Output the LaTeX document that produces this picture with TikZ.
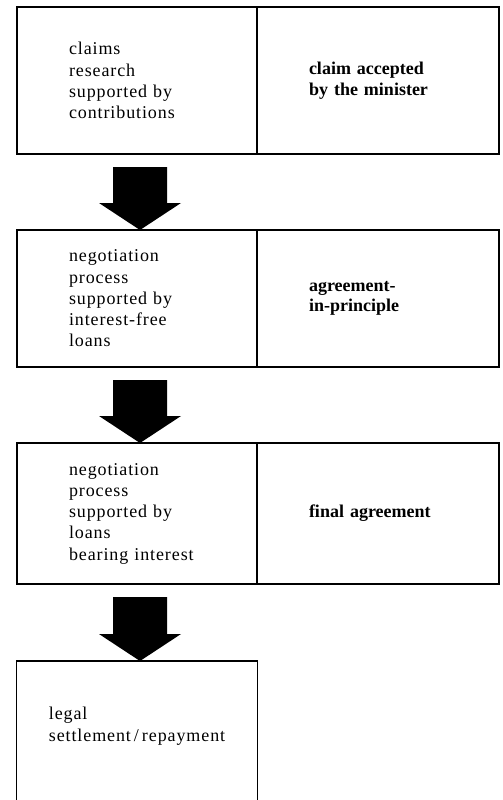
\documentclass[tikz,border=0pt]{standalone}
\usepackage{fontspec}
\setmainfont{Liberation Serif}
\newfontfamily\spacedfont[LetterSpace=5]{Liberation Serif}
\usetikzlibrary{positioning,calc}
\tikzset{frame/.style={draw,line width=1.3pt,outer sep=0pt,inner ysep=0pt},
 lcell/.style={frame,align=left,text width=136pt,inner xsep=52pt,font=\fontsize{18}{21.25}\spacedfont},
 rcell/.style={frame,align=left,text width=138pt,inner xsep=52pt,font=\fontsize{18}{20.5}\selectfont\bfseries},
 endcell/.style={frame,align=left,minimum width=241pt,minimum height=150pt,text depth=24pt,font=\fontsize{18}{22}\spacedfont}}
\newcommand{\fatarrow}[2]{\fill let \p1=([xshift=3pt]#1.south), \p2=(#2.north) in
 (\x1-27pt,\y1-13pt) -- (\x1+27pt,\y1-13pt) -- (\x1+27pt,\y2+27pt) -- (\x1+41pt,\y2+27pt)
 -- (\x1,\y2) -- (\x1-41pt,\y2+27pt) -- (\x1-27pt,\y2+27pt) -- cycle;}

\begin{document}
\begin{tikzpicture}
\useasboundingbox (0,0) rectangle (503pt,-800pt);
\node[lcell,minimum height=147pt,anchor=north west](claims) at (17pt,-7pt){claims\\research\\supported by\\contributions};
\node[rcell,minimum height=147pt,right=0pt of claims](accepted){claim accepted\\by the minister};
\node[lcell,minimum height=137pt,below=76pt of claims](freeloans){negotiation\\process\\supported by\\interest-free\\loans};
\node[rcell,minimum height=137pt,right=0pt of freeloans](principle){agreement-\\in-principle};
\node[lcell,minimum height=141pt,below=76pt of freeloans](paidloans){negotiation\\process\\supported by\\loans\\bearing interest};
\node[rcell,minimum height=141pt,right=0pt of paidloans](final){final agreement};
\node[endcell,below=77pt of paidloans](settlement){legal\\settlement\,/\,repayment};
\fatarrow{claims}{freeloans}
\fatarrow{freeloans}{paidloans}
\fatarrow{paidloans}{settlement}
\end{tikzpicture}
\end{document}
